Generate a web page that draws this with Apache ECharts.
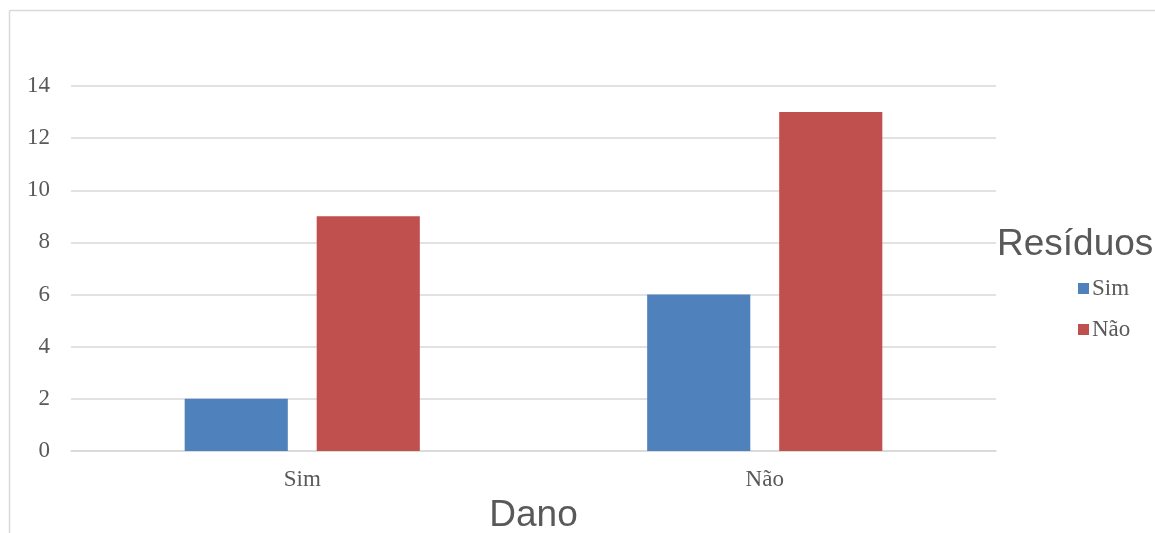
<!DOCTYPE html>
<html><head><meta charset="utf-8">
<script src="https://cdn.jsdelivr.net/npm/echarts@6/dist/echarts.min.js"></script>
<style>html,body{margin:0;padding:0;background:#fff}#c{width:1155px;height:533px}</style>
</head><body><div id="c"></div>
<script>
const categories = ['Sim', 'Não'];
const seriesNames = ['Sim', 'Não'];
const simValues = [2, 6];
const naoValues = [9, 13];
const yTicks = [0, 2, 4, 6, 8, 10, 12, 14];

const chart = echarts.init(document.getElementById('c'));
const serif = '"Liberation Serif", "Times New Roman", serif';
const sans = '"Liberation Sans", Arial, sans-serif';
chart.setOption({
  animation: false,
  backgroundColor: '#fff',
  graphic: [
    {type: 'line', shape: {x1: 9.5, y1: 10.5, x2: 1155, y2: 10.5}, style: {stroke: '#d9d9d9', lineWidth: 1.5}},
    {type: 'line', shape: {x1: 9.5, y1: 10.5, x2: 9.5, y2: 533}, style: {stroke: '#d9d9d9', lineWidth: 1.5}}
  ],
  title: {
    text: 'Resíduos', left: 992, top: 221,
    textStyle: {fontFamily: sans, fontSize: 37, fontWeight: 'normal', color: '#595959'}
  },
  legend: {
    orient: 'vertical', left: 1073, top: 272,
    itemWidth: 11, itemHeight: 11, itemGap: 18,
    icon: 'rect',
    data: seriesNames,
    textStyle: {fontFamily: serif, fontSize: 23, color: '#595959', padding: [0, 0, 0, -2]}
  },
  grid: {left: 71, right: 159, top: 86, bottom: 82, containLabel: false, outerBoundsMode: 'none'},
  xAxis: {
    type: 'category', data: categories,
    name: 'Dano', nameLocation: 'middle', nameGap: 46,
    nameTextStyle: {fontFamily: sans, fontSize: 37, color: '#595959'},
    axisLine: {lineStyle: {color: '#d9d9d9', width: 1.5}},
    axisTick: {show: false},
    axisLabel: {fontFamily: serif, fontSize: 23, color: '#595959', margin: 17}
  },
  yAxis: {
    type: 'value', min: yTicks[0], max: yTicks[yTicks.length - 1], interval: 2,
    axisLine: {show: false}, axisTick: {show: false},
    splitLine: {lineStyle: {color: '#d9d9d9', width: 1.5}},
    axisLabel: {fontFamily: serif, fontSize: 23, color: '#595959', margin: 21}
  },
  series: [
    {name: seriesNames[0], type: 'bar', data: simValues, barWidth: '22.3%', barGap: '28%', itemStyle: {color: '#4F81BD'}},
    {name: seriesNames[1], type: 'bar', data: naoValues, barWidth: '22.3%', barGap: '28%', itemStyle: {color: '#C0504D'}}
  ]
});
</script></body></html>
